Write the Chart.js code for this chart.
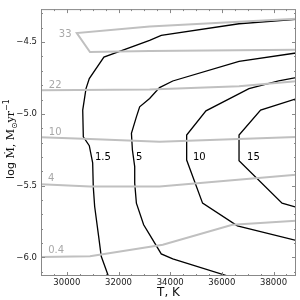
<!DOCTYPE html>
<html>
<head>
<meta charset="utf-8">
<script src="https://cdn.jsdelivr.net/npm/chart.js@4/dist/chart.umd.min.js"></script>
<style>
  html, body { margin: 0; padding: 0; background: #fff; }
  #wrap { width: 300px; height: 300px; }
</style>
</head>
<body>
<div id="wrap"><canvas id="chart"></canvas></div>
<script>
// Black contours (labelled 1.5, 5, 10, 15)
const c1T = [38870, 36665, 33654, 33204, 31435, 30869, 30742, 30615, 30638, 30869, 31000, 31023, 31077, 31231, 31331, 31600];
const c1M = [-4.342, -4.372, -4.453, -4.488, -4.604, -4.754, -4.824, -4.974, -5.160, -5.222, -5.342, -5.507, -5.646, -5.854, -5.993, -6.127];
const c5T = [38870, 36665, 34100, 33588, 33204, 32819, 32692, 32500, 32538, 32627, 32627, 32692, 32973, 33204, 33654, 34100, 36177];
const c5M = [-4.576, -4.634, -4.771, -4.817, -4.893, -4.951, -5.021, -5.136, -5.252, -5.368, -5.483, -5.622, -5.773, -5.842, -5.976, -6.011, -6.127];
const c10T = [38870, 38200, 37050, 35385, 34638, 34638, 35254, 36600, 38870];
const c10M = [-4.748, -4.770, -4.824, -4.979, -5.148, -5.322, -5.622, -5.780, -5.882];
const c15T = [38870, 37500, 36665, 36665, 38331, 38870];
const c15M = [-4.895, -4.974, -5.148, -5.326, -5.622, -5.650];

// Grey contours (labelled 33, 22, 10, 4, 0.4)
const g33T = [38870, 33204, 30385, 30896, 33204, 38870];
const g33M = [-4.337, -4.391, -4.437, -4.569, -4.562, -4.553];
const g22T = [29000, 33204, 36665, 38870];
const g22M = [-4.835, -4.831, -4.808, -4.773];
const g10T = [29000, 30896, 33588, 38870];
const g10M = [-5.163, -5.176, -5.194, -5.162];
const g4T = [29000, 30896, 33588, 38870];
const g4M = [-5.490, -5.507, -5.507, -5.425];
const g04T = [29000, 30896, 33715, 36408, 38870];
const g04M = [-5.997, -5.993, -5.912, -5.773, -5.745];

// contour labels: text, T, logM
const blackLabels = [['1.5', 31396, -5.301], ['5', 32800, -5.301], ['10', 35127, -5.307], ['15', 37223, -5.307]];
const greyLabels = [['33', 29935, -4.447], ['22', 29550, -4.801], ['10', 29550, -5.127], ['4', 29396, -5.447], ['0.4', 29588, -5.953]];

// axes
const xMin = 29000, xMax = 38870;
const yMin = -6.13, yMax = -4.27;
const xTicks = [];
for (let v = 29000; v <= 38500; v += 500) xTicks.push(v);
const yTicks = [-6.1, -6.0, -5.9, -5.8, -5.7, -5.6, -5.5, -5.4, -5.3, -5.2, -5.1, -5.0, -4.9, -4.8, -4.7, -4.6, -4.5, -4.4, -4.3];

const pts = (xs, ys) => xs.map((v, i) => ({ x: v, y: ys[i] }));
const blackSet = (xs, ys) => ({ data: pts(xs, ys), borderColor: '#000', borderWidth: 1.3, pointRadius: 0, tension: 0, fill: false });
const greySet = (xs, ys) => ({ data: pts(xs, ys), borderColor: '#c0c0c0', borderWidth: 2, pointRadius: 0, tension: 0, fill: false });

const isMajorX = v => v % 2000 === 0;
const isMajorY = v => Math.abs(Math.round(v * 2) - v * 2) < 1e-6;

// y title pieces (mathtext-ish: serif M, subscript sun, superscript -1)
const yTitleParts = [
  { t: 'log ', f: '11px "DejaVu Sans"', dy: 0 },
  { t: '\u1E40, M', f: '11px "DejaVu Serif"', dy: 0 },
  { t: '\u2299', f: '8px "DejaVu Sans"', dy: 2.5 },
  { t: 'yr', f: '11px "DejaVu Serif"', dy: 0 },
  { t: '\u22121', f: '8px "DejaVu Sans"', dy: -5 }
];

// frame with inward ticks on all sides, plus contour labels
const framePlugin = {
  id: 'framePlugin',
  afterDatasetsDraw(chart) {
    const { ctx, chartArea: a, scales: { x, y } } = chart;
    ctx.save();
    ctx.strokeStyle = '#888';
    ctx.lineWidth = 1;
    ctx.strokeRect(a.left + 0.5, a.top + 0.5, a.right - a.left - 1, a.bottom - a.top - 1);
    ctx.beginPath();
    xTicks.forEach(v => {
      const px = Math.round(x.getPixelForValue(v)) + 0.5;
      const len = isMajorX(v) ? 4 : 2;
      ctx.moveTo(px, a.bottom); ctx.lineTo(px, a.bottom - len);
      ctx.moveTo(px, a.top); ctx.lineTo(px, a.top + len);
    });
    yTicks.forEach(v => {
      const py = Math.round(y.getPixelForValue(v)) + 0.5;
      const len = isMajorY(v) ? 4 : 2;
      ctx.moveTo(a.left, py); ctx.lineTo(a.left + len, py);
      ctx.moveTo(a.right, py); ctx.lineTo(a.right - len, py);
    });
    ctx.stroke();

    ctx.font = '10px "DejaVu Sans"';
    ctx.textAlign = 'center';
    ctx.textBaseline = 'middle';
    ctx.fillStyle = '#000';
    blackLabels.forEach(([t, tx, ty]) => ctx.fillText(t, x.getPixelForValue(tx), y.getPixelForValue(ty)));
    ctx.fillStyle = '#a8a8a8';
    greyLabels.forEach(([t, tx, ty]) => ctx.fillText(t, x.getPixelForValue(tx), y.getPixelForValue(ty)));

    // rotated y-axis title
    ctx.translate(14, 139);
    ctx.rotate(-Math.PI / 2);
    ctx.textAlign = 'left';
    ctx.textBaseline = 'alphabetic';
    ctx.fillStyle = '#111';
    let total = 0;
    yTitleParts.forEach(p => { ctx.font = p.f; total += ctx.measureText(p.t).width; });
    let cx = -total / 2;
    yTitleParts.forEach(p => {
      ctx.font = p.f;
      ctx.fillText(p.t, cx, p.dy);
      cx += ctx.measureText(p.t).width;
    });
    ctx.restore();
  }
};

new Chart(document.getElementById('chart'), {
  type: 'line',
  data: {
    datasets: [
      greySet(g33T, g33M), greySet(g22T, g22M), greySet(g10T, g10M), greySet(g4T, g4M), greySet(g04T, g04M),
      blackSet(c1T, c1M), blackSet(c5T, c5M), blackSet(c10T, c10M), blackSet(c15T, c15M)
    ]
  },
  options: {
    responsive: true,
    maintainAspectRatio: false,
    animation: false,
    layout: { padding: { top: 9, right: 4, left: 0, bottom: 0 } },
    plugins: { legend: { display: false }, tooltip: { enabled: false } },
    scales: {
      x: {
        type: 'linear',
        min: xMin, max: xMax,
        afterBuildTicks: s => { s.ticks = xTicks.map(v => ({ value: v })); },
        afterFit: s => { s.height = 24; },
        grid: { display: false, drawTicks: false },
        border: { display: false },
        ticks: {
          autoSkip: false, maxRotation: 0, padding: 2,
          font: { family: 'DejaVu Sans', size: 8.5 }, color: '#222',
          callback: v => isMajorX(v) ? String(v) : ''
        },
        title: { display: true, text: 'T, K', font: { family: 'DejaVu Sans', size: 12 }, color: '#111', padding: { top: 0, bottom: 0 } }
      },
      y: {
        type: 'linear',
        min: yMin, max: yMax,
        afterBuildTicks: s => { s.ticks = yTicks.map(v => ({ value: v })); },
        afterFit: s => { s.width = 41; },
        grid: { display: false, drawTicks: false },
        border: { display: false },
        ticks: {
          autoSkip: false, padding: 4,
          font: { family: 'DejaVu Sans', size: 8.5 }, color: '#222',
          callback: v => isMajorY(v) ? v.toFixed(1).replace('-', '\u2212') : ''
        },
        title: { display: false }
      }
    }
  },
  plugins: [framePlugin]
});
</script>
</body>
</html>
